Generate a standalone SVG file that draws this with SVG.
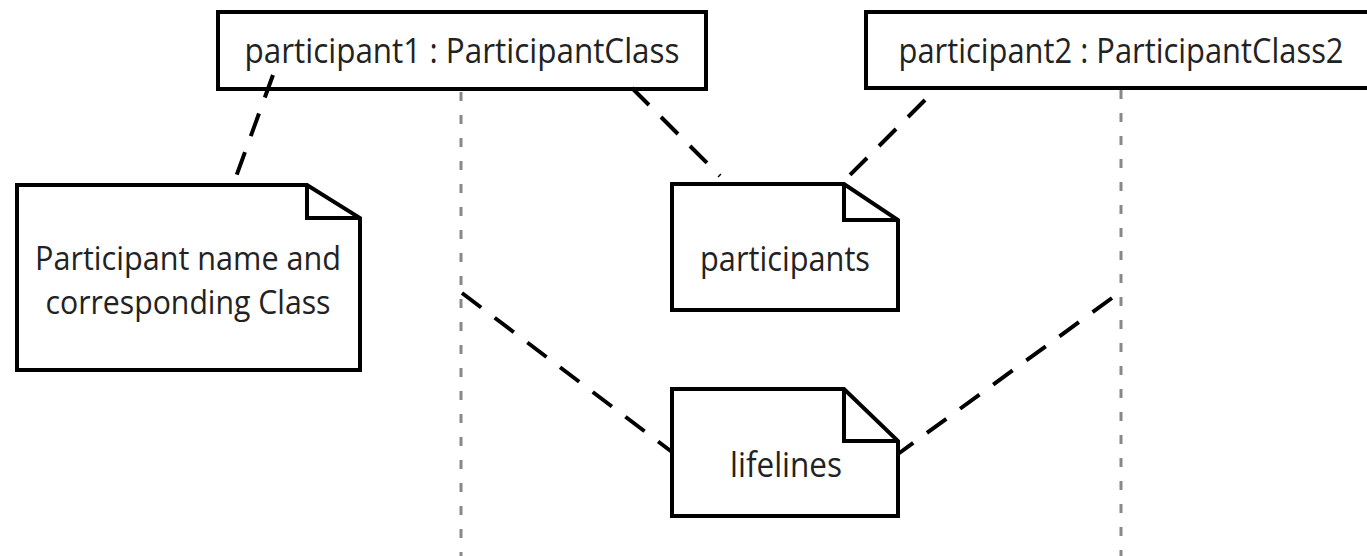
<svg xmlns="http://www.w3.org/2000/svg" width="1367" height="556" viewBox="0 0 1367 556">
<style>
.box{fill:#fff;stroke:#000;stroke-width:4}
.note{fill:#fff;stroke:#000;stroke-width:4;stroke-linejoin:miter}
.fold{fill:none;stroke:#000;stroke-width:4}
.lbl{font-family:"Liberation Sans Narrow","Open Sans","Liberation Sans",sans-serif;fill:#222;font-size:35px}
.sm{font-size:32px}
.life{stroke:#888;stroke-width:3;stroke-dasharray:9 14;fill:none}
.conn{stroke:#000;stroke-width:4;stroke-dasharray:24 17;fill:none}
</style>
<rect width="1367" height="556" fill="#fff"/>
<g id="lifelines">
<line class="life" x1="461" y1="92" x2="461" y2="556"/>
<line class="life" x1="1121" y1="90" x2="1121" y2="556"/>
</g>
<g id="participant1">
<rect class="box" x="218" y="12" width="488" height="77"/>
<text class="lbl" x="462" y="63" text-anchor="middle" textLength="435" lengthAdjust="spacingAndGlyphs">participant1 : ParticipantClass</text>
</g>
<g id="participant2">
<rect class="box" x="866" y="12" width="503" height="76"/>
<text class="lbl" x="1121" y="63" text-anchor="middle" textLength="445" lengthAdjust="spacingAndGlyphs">participant2 : ParticipantClass2</text>
</g>
<g id="connectors">
<line class="conn" x1="273" y1="75" x2="233" y2="185"/>
<line class="conn" x1="632" y1="88" x2="720" y2="176"/>
<line class="conn" x1="925" y1="100" x2="840" y2="185"/>
<line class="conn" x1="462" y1="293" x2="672" y2="452"/>
<line class="conn" x1="1112" y1="298" x2="898" y2="454"/>
</g>
<g id="note-participant-name">
<path class="note" d="M17 185 H307 L360 218 V370 H17 Z"/>
<path class="fold" d="M307 185 V218 H360"/>
<text class="lbl sm" x="188" y="270" text-anchor="middle" textLength="306" lengthAdjust="spacingAndGlyphs">Participant name and</text>
<text class="lbl sm" x="188" y="314" text-anchor="middle" textLength="285" lengthAdjust="spacingAndGlyphs">corresponding Class</text>
</g>
<g id="note-participants">
<path class="note" d="M672 184 H844 L898 220 V310 H672 Z"/>
<path class="fold" d="M844 184 V220 H898"/>
<text class="lbl" x="785" y="271" text-anchor="middle" textLength="170" lengthAdjust="spacingAndGlyphs">participants</text>
</g>
<g id="note-lifelines">
<path class="note" d="M672 389 H844 L898 441 V516 H672 Z"/>
<path class="fold" d="M844 389 V441 H898"/>
<text class="lbl" x="786" y="477" text-anchor="middle" textLength="112" lengthAdjust="spacingAndGlyphs">lifelines</text>
</g>
</svg>
